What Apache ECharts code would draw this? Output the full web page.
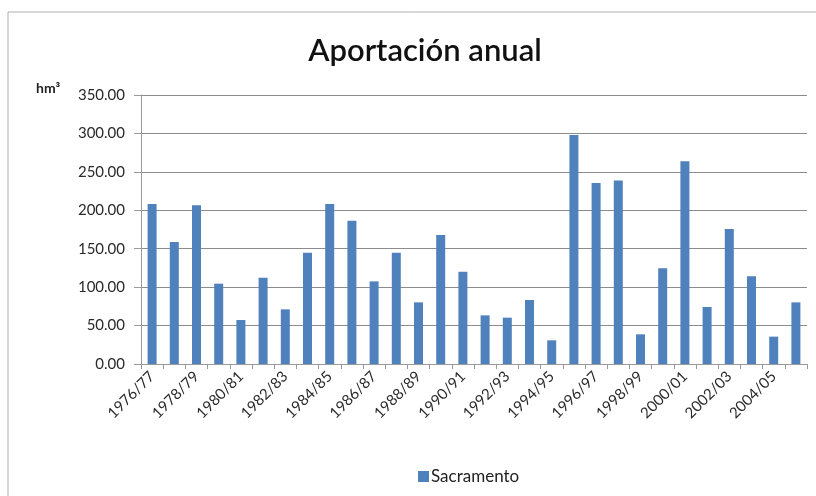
<!DOCTYPE html>
<html><head><meta charset="utf-8">
<script src="https://cdn.jsdelivr.net/npm/echarts@6/dist/echarts.min.js"></script>
<style>html,body{margin:0;padding:0;background:#fff}#c{width:816px;height:496px}</style>
</head><body><div id="c"></div>
<script>
const categories = ["1976/77","1977/78","1978/79","1979/80","1980/81","1981/82","1982/83","1983/84","1984/85","1985/86","1986/87","1987/88","1988/89","1989/90","1990/91","1991/92","1992/93","1993/94","1994/95","1995/96","1996/97","1997/98","1998/99","1999/00","2000/01","2001/02","2002/03","2003/04","2004/05","2005/06"];
const sacramento = [208.2,158.7,206.4,104.5,57.2,112.3,71.1,144.8,208.2,186.5,107.5,144.8,80.2,167.8,120.1,63.3,60.3,83.3,30.8,297.9,235.5,238.9,38.6,124.5,263.7,74.2,175.6,114.1,35.6,80.2];
const seriesName = "Sacramento";
const titleText = "Aportación anual";
const unitText = "hm³";

const chart = echarts.init(document.getElementById('c'), null, {renderer:'canvas'});
const font = "Lato, 'Open Sans', sans-serif";
chart.setOption({
  animation:false,
  backgroundColor:'#fff',
  graphic:[
    {type:'rect', shape:{x:8,y:12,width:840,height:520}, style:{fill:'none', stroke:'#b0b0b0', lineWidth:1}},
    {type:'text', left:36, top:81, style:{text:unitText, font:"bold 14px "+font, fill:'#222'}}
  ],
  title:{text:titleText, left:420, top:30, textAlign:'center',
    textStyle:{fontFamily:font, fontSize:31, fontWeight:600, color:'#111'}},
  legend:{data:[seriesName], left:413, top:463, itemWidth:11, itemHeight:11, itemGap:4,
    textStyle:{fontFamily:font, fontSize:17, color:'#222', padding:[0,0,0,-3]}, icon:'rect'},
  grid:{left:141, right:9, top:95, bottom:132, containLabel:false},
  xAxis:{type:'category', data:categories, boundaryGap:true,
    axisLine:{lineStyle:{color:'#9a9a9a', width:1}},
    axisTick:{show:true, alignWithLabel:false, interval:0, length:5, lineStyle:{color:'#9a9a9a'}},
    axisLabel:{interval:1, rotate:45, fontFamily:font, fontSize:15, color:'#2a2a2a', margin:10}},
  yAxis:{type:'value', min:0, max:350, interval:50,
    axisLine:{show:true, lineStyle:{color:'#9a9a9a'}},
    axisTick:{show:true, length:7, lineStyle:{color:'#9a9a9a'}},
    axisLabel:{formatter:v=>v.toFixed(2), fontFamily:font, fontSize:15, color:'#2a2a2a', margin:16},
    splitLine:{lineStyle:{color:'#8c8c8c', width:1}}},
  series:[{name:seriesName, type:'bar', data:sacramento, barWidth:9,
    itemStyle:{color:'#4f81bd'}}]
});
</script></body></html>
